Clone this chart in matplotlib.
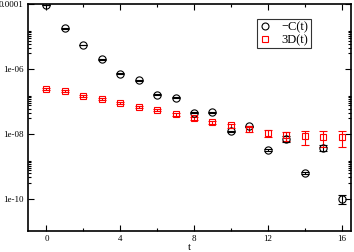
import numpy as np
import matplotlib
matplotlib.use("Agg")
import matplotlib.pyplot as plt
from matplotlib.lines import Line2D
from matplotlib.ticker import FixedLocator, NullFormatter

plt.rcParams['font.family'] = ['Liberation Serif', 'DejaVu Serif']

t = np.arange(17)

# -C(t), black circles
c_val = [9.3e-5, 1.8e-5, 5.5e-6, 1.95e-6, 7.2e-7, 4.4e-7, 1.6e-7, 1.3e-7,
         4.5e-8, 4.6e-8, 1.2e-8, 1.7e-8, 3.1e-9, 6.9e-9, 6.2e-10, 3.7e-9, 1.0e-10]
c_err = [2e-6, 4e-7, 1.2e-7, 4e-8, 1.5e-8, 9e-9, 3.5e-9, 3e-9,
         1.2e-9, 1.3e-9, 5e-10, 8e-10, 2.5e-10, 1.5e-9, 6e-11, 7e-10, 3e-11]

# 3D(t), red squares
d_val = [2.4e-7, 2.1e-7, 1.5e-7, 1.2e-7, 9.0e-8, 6.9e-8, 5.3e-8, 4.0e-8,
         3.0e-8, 2.3e-8, 1.8e-8, 1.4e-8, 1.05e-8, 8.9e-9, 8.3e-9, 8.0e-9, 8.0e-9]
d_err = [1.5e-8, 1.3e-8, 1e-8, 8e-9, 6e-9, 5e-9, 4e-9, 3.5e-9,
         3e-9, 2.5e-9, 2.5e-9, 2.5e-9, 2.5e-9, 2.8e-9, 3.7e-9, 4e-9, 4e-9]

xticks = [0, 4, 8, 12, 16]
yticks = [1e-10, 1e-8, 1e-6, 1e-4]
ylabels = ['1e-10', '1e-08', '1e-06', '0.0001']

fig = plt.figure(figsize=(3.54, 2.52), dpi=100)
ax = fig.add_axes([0.079, 0.083, 0.912, 0.901])

ax.errorbar(t, c_val, yerr=c_err, fmt='o', ms=5.2, mfc='none', mec='black',
            mew=0.8, ecolor='black', elinewidth=0.8, capsize=2.6,
            capthick=0.8)
ax.errorbar(t, d_val, yerr=d_err, fmt='s', ms=5.0, mfc='none', mec='red',
            mew=0.8, ecolor='red', elinewidth=0.8, capsize=2.6,
            capthick=0.8)

ax.set_yscale('log')
ax.set_xlim(-1, 16.5)
ax.set_ylim(1e-11, 1e-4)

ax.set_xticks(xticks)
ax.set_xticks([2, 6, 10, 14], minor=True)
ax.set_yticks(yticks)
ax.set_yticklabels(ylabels)
minors = [k * 1.5 * 10.0 ** e for e in (-10, -8, -6) for k in range(2, 11)]
ax.yaxis.set_minor_locator(FixedLocator(minors))
ax.yaxis.set_minor_formatter(NullFormatter())

ax.tick_params(which='both', direction='in', top=True, right=True,
               labelsize=6.5, width=0.8, pad=3)
ax.tick_params(which='major', length=4.5)
ax.tick_params(which='minor', length=2.5)
for s in ax.spines.values():
    s.set_linewidth(1.2)

ax.set_xlabel('t', fontsize=7.5, labelpad=0)

handles = [
    Line2D([], [], ls='none', marker='o', ms=5.0, mfc='none', mec='black', mew=0.8),
    Line2D([], [], ls='none', marker='s', ms=5.0, mfc='none', mec='red', mew=0.8),
]
leg = ax.legend(handles, ['\u2212C(t)', '3D(t)'], loc='upper right',
                bbox_to_anchor=(0.877, 0.935), fontsize=9,
                frameon=True, fancybox=False, edgecolor='black',
                handlelength=1.0, handletextpad=0.8, borderpad=0.2,
                labelspacing=0.05, borderaxespad=0)
leg.get_frame().set_linewidth(0.8)

fig.savefig('out.png', dpi=100)
